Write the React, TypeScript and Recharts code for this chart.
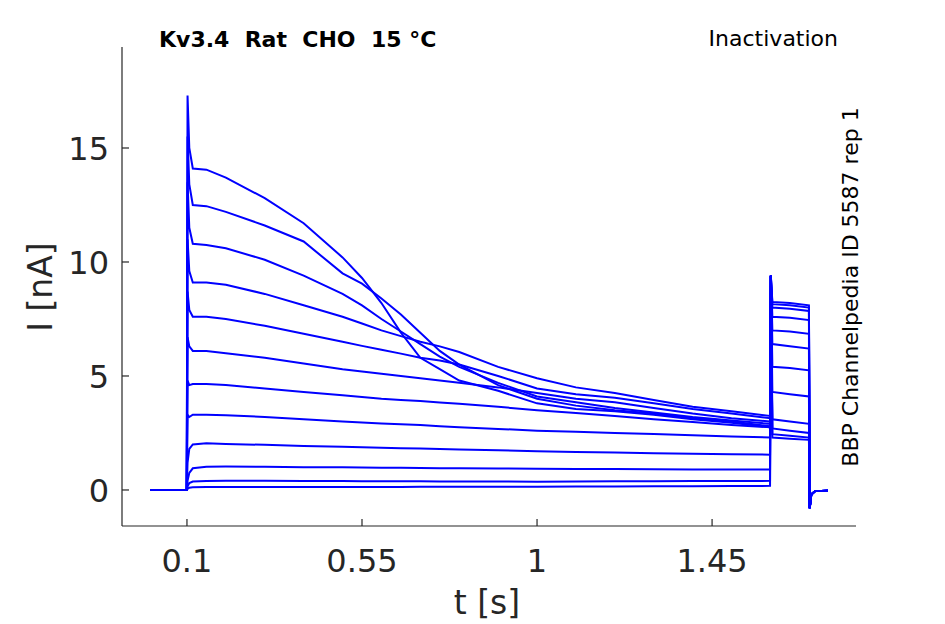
import React from "react"
import { Line, LineChart, XAxis, YAxis } from "recharts"

// time samples [s]
const times = [
  0.005, 0.0995, 0.1015, 0.106, 0.115, 0.15, 0.2, 0.3, 0.4, 0.5, 0.55, 0.6, 0.65,
  0.7, 0.75, 0.8, 0.9, 1.0, 1.1, 1.2, 1.3, 1.4, 1.5, 1.599, 1.601, 1.605, 1.65,
  1.699, 1.701, 1.705, 1.715, 1.748,
]

// current traces [nA], largest prepulse first
const trace1 = [0, 0, 17.3, 15.0, 14.1, 14.05, 13.7, 12.8, 11.7, 10.2, 9.3, 8.2, 6.9, 5.8, 5.3, 4.8, 4.35, 3.8, 3.55, 3.45, 3.3, 3.1, 2.95, 2.75, 9.4, 2.3, 2.25, 2.2, -0.8, -0.2, -0.05, -0.03]
const trace2 = [0, 0, 15.5, 13.4, 12.5, 12.45, 12.2, 11.6, 10.9, 9.5, 9.05, 8.4, 7.7, 6.9, 6.1, 5.5, 4.6, 4.0, 3.7, 3.5, 3.35, 3.15, 3.0, 2.8, 9.4, 2.45, 2.38, 2.3, -0.8, -0.2, -0.05, -0.03]
const trace3 = [0, 0, 13.5, 11.5, 10.8, 10.75, 10.6, 10.1, 9.4, 8.6, 8.1, 7.5, 6.95, 6.4, 5.85, 5.4, 4.7, 4.1, 3.85, 3.6, 3.4, 3.2, 3.05, 2.9, 9.4, 2.7, 2.6, 2.5, -0.8, -0.2, -0.05, -0.03]
const trace4 = [0, 0, 11.0, 9.6, 9.1, 9.1, 9.0, 8.6, 8.1, 7.6, 7.3, 7.0, 6.75, 6.5, 6.3, 6.05, 5.4, 4.9, 4.5, 4.25, 3.95, 3.65, 3.45, 3.25, 9.4, 3.1, 3.0, 2.9, -0.8, -0.2, -0.05, -0.03]
const trace5 = [0, 0, 8.7, 7.9, 7.6, 7.6, 7.5, 7.2, 6.85, 6.5, 6.32, 6.15, 5.98, 5.8, 5.68, 5.5, 5.0, 4.45, 4.2, 4.05, 3.8, 3.55, 3.35, 3.15, 9.4, 4.3, 4.2, 4.1, -0.8, -0.2, -0.05, -0.03]
const trace6 = [0, 0, 6.7, 6.3, 6.1, 6.1, 6.0, 5.8, 5.55, 5.3, 5.2, 5.1, 5.0, 4.9, 4.8, 4.7, 4.5, 4.25, 4.0, 3.85, 3.6, 3.35, 3.15, 3.0, 9.4, 5.4, 5.35, 5.25, -0.8, -0.2, -0.05, -0.03]
const trace7 = [0, 0, 4.8, 4.6, 4.65, 4.65, 4.6, 4.45, 4.3, 4.15, 4.08, 4.0, 3.95, 3.9, 3.84, 3.78, 3.65, 3.5, 3.38, 3.25, 3.1, 2.98, 2.85, 2.75, 9.4, 6.4, 6.3, 6.2, -0.8, -0.2, -0.05, -0.03]
const trace8 = [0, 0, 3.3, 3.2, 3.3, 3.3, 3.28, 3.2, 3.1, 3.0, 2.96, 2.92, 2.88, 2.85, 2.8, 2.75, 2.68, 2.6, 2.55, 2.5, 2.45, 2.4, 2.35, 2.3, 9.4, 7.0, 6.95, 6.85, -0.8, -0.2, -0.05, -0.03]
const trace9 = [0, 0, 1.2, 1.8, 2.0, 2.05, 2.02, 1.98, 1.93, 1.9, 1.87, 1.85, 1.83, 1.82, 1.8, 1.78, 1.74, 1.7, 1.67, 1.64, 1.61, 1.59, 1.57, 1.55, 9.4, 7.6, 7.55, 7.45, -0.8, -0.2, -0.05, -0.03]
const trace10 = [0, 0, 0.4, 0.75, 0.95, 1.02, 1.03, 1.02, 1.0, 1.0, 0.99, 0.98, 0.97, 0.96, 0.955, 0.95, 0.94, 0.93, 0.92, 0.92, 0.91, 0.9, 0.9, 0.9, 9.4, 8.0, 7.95, 7.85, -0.8, -0.2, -0.05, -0.03]
const trace11 = [0, 0, 0.15, 0.3, 0.37, 0.39, 0.4, 0.4, 0.39, 0.39, 0.385, 0.38, 0.38, 0.38, 0.37, 0.37, 0.37, 0.36, 0.37, 0.38, 0.38, 0.39, 0.39, 0.4, 9.4, 8.15, 8.1, 8.0, -0.8, -0.2, -0.05, -0.03]
const trace12 = [0, 0, 0.05, 0.1, 0.12, 0.13, 0.13, 0.13, 0.13, 0.13, 0.13, 0.13, 0.135, 0.14, 0.14, 0.14, 0.14, 0.14, 0.15, 0.15, 0.16, 0.16, 0.17, 0.18, 9.4, 8.25, 8.2, 8.1, -0.8, -0.2, -0.05, -0.03]

const traces = [trace1, trace2, trace3, trace4, trace5, trace6, trace7, trace8, trace9, trace10, trace11, trace12]

const xTicks = [0.1, 0.55, 1, 1.45]
const yTicks = [0, 5, 10, 15]

const data = times.map((t, i) => {
  const row: Record<string, number> = { t }
  traces.forEach((tr, k) => (row["s" + k] = tr[i]))
  return row
})

// plot box in page pixels
const LEFT = 122
const TOP = 47
const RIGHT = 856
const BOTTOM = 526
const Y_W = 60
const X_H = 30
const AXIS = "#262626"
const FONT = "DejaVu Sans"

const XTick = (props: any) => {
  const { x, payload } = props
  return (
    <g>
      <line x1={x} y1={BOTTOM} x2={x} y2={BOTTOM - 7} stroke={AXIS} strokeWidth={1.2} />
      <text x={x} y={BOTTOM + 46} textAnchor="middle" fontSize={32} fontFamily={FONT} fill={AXIS}>
        {String(payload.value)}
      </text>
    </g>
  )
}

const YTick = (props: any) => {
  const { y, payload } = props
  return (
    <g>
      <line x1={LEFT} y1={y} x2={LEFT + 7} y2={y} stroke={AXIS} strokeWidth={1.2} />
      <text x={LEFT - 13} y={y + 12} textAnchor="end" fontSize={32} fontFamily={FONT} fill={AXIS}>
        {String(payload.value)}
      </text>
    </g>
  )
}

export default function App() {
  return (
    <div style={{ position: "absolute", left: 0, top: 0, width: 945, height: 624, background: "#fff" }}>
      <LineChart
        width={945}
        height={624}
        data={data}
        margin={{ top: TOP, right: 945 - RIGHT, bottom: 624 - BOTTOM - X_H, left: LEFT - Y_W }}
      >
        <XAxis
          type="number"
          dataKey="t"
          domain={[-0.067, 1.82]}
          ticks={xTicks}
          allowDataOverflow
          height={X_H}
          tickSize={0}
          tickMargin={0}
          tickLine={false}
          axisLine={{ stroke: AXIS, strokeWidth: 1.2 }}
          tick={<XTick />}
          interval={0}
        />
        <YAxis
          type="number"
          domain={[-1.58, 19.43]}
          ticks={yTicks}
          allowDataOverflow
          width={Y_W}
          tickSize={0}
          tickMargin={0}
          tickLine={false}
          axisLine={{ stroke: AXIS, strokeWidth: 1.2 }}
          tick={<YTick />}
          interval={0}
        />
        {traces.map((_, k) => (
          <Line
            key={k}
            type="linear"
            dataKey={"s" + k}
            stroke="#0000ff"
            strokeWidth={2}
            dot={false}
            activeDot={false}
            isAnimationActive={false}
          />
        ))}
      </LineChart>
      <svg
        width={945}
        height={624}
        style={{ position: "absolute", left: 0, top: 0, pointerEvents: "none" }}
      >
        <text x={159} y={46.5} fontSize={22} fontWeight="bold" fontFamily={FONT} fill="#000" style={{ whiteSpace: "pre" }}>
          {"Kv3.4  Rat  CHO  15 °C"}
        </text>
        <text x={838} y={46} textAnchor="end" fontSize={22} fontFamily={FONT} fill="#000">
          Inactivation
        </text>
        <text
          x={858}
          y={287}
          textAnchor="middle"
          fontSize={22}
          fontFamily={FONT}
          fill="#000"
          transform="rotate(-90 858 287)"
        >
          BBP Channelpedia ID 5587 rep 1
        </text>
        <text x={487} y={614} textAnchor="middle" fontSize={33} fontFamily={FONT} fill={AXIS}>
          t [s]
        </text>
        <text
          x={52}
          y={287}
          textAnchor="middle"
          fontSize={33}
          fontFamily={FONT}
          fill={AXIS}
          transform="rotate(-90 52 287)"
        >
          I [nA]
        </text>
      </svg>
    </div>
  )
}
